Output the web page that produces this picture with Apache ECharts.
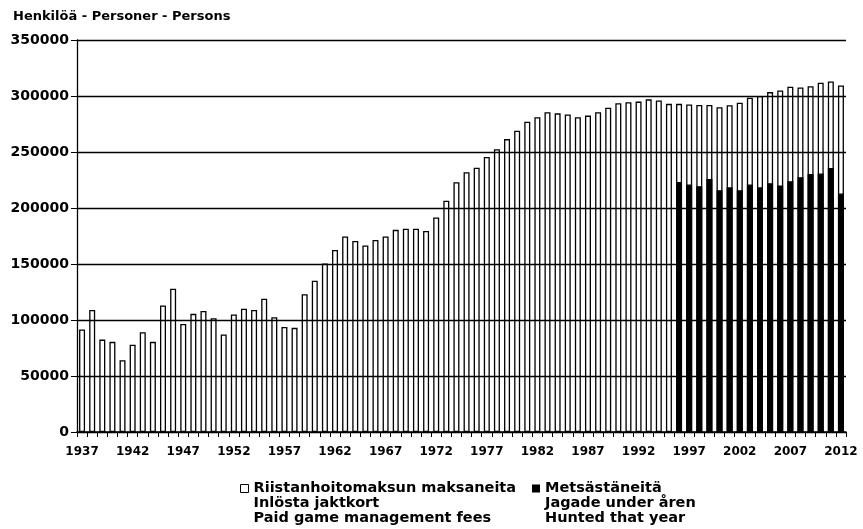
<!DOCTYPE html>
<html>
<head>
<meta charset="utf-8">
<script src="https://cdn.jsdelivr.net/npm/echarts@6/dist/echarts.min.js"></script>
<style>
    html, body { margin: 0; padding: 0; background: #fff; }
    #chart { width: 863px; height: 529px; }
</style>
</head>
<body>
<div id="chart"></div>
<script>
    // years 1937 - 2012
    let years = [];
    for (let y = 1937; y <= 2012; y++) {
        years.push(String(y));
    }

    // paid game management fees, 1937 - 2012
    let paidFees = [
        91600, 109000, 82500, 80500, 64000, 78000, 89000, 80500, 113000, 128000,
        96500, 105500, 108000, 101500, 87000, 105000, 110000, 109000, 119000, 102500,
        93800, 93000, 123000, 135000, 150500, 162500, 174500, 170500, 166500, 171500,
        174500, 180500, 181500, 181500, 179500, 191500, 206500, 223000, 232000, 236000,
        245500, 252500, 261500, 269000, 277000, 281000, 285500, 284500, 283500, 281000,
        282500, 285500, 289500, 293500, 294500, 295000, 297000, 296000, 293000, 293000,
        292500, 292000, 292000, 290000, 291800, 294000, 298500, 300000, 303500, 305000,
        308200, 307600, 308800, 311800, 313000, 309400
    ];

    // hunted that year, 1996 - 2012
    let huntedStart = 1996;
    let hunted = [
        223300, 220900, 219400, 226000, 215900, 218500, 215900, 220900, 218500,
        222100, 220100, 223900, 227500, 230400, 230700, 235800, 212900
    ];

    let yTicks = [0, 50000, 100000, 150000, 200000, 250000, 300000, 350000];

    let nameFees = 'Riistanhoitomaksun maksaneita\nInlösta jaktkort\nPaid game management fees';
    let nameHunted = 'Metsästäneitä\nJagade under åren\nHunted that year';

    let huntedData = years.map(function (y) {
        let i = parseInt(y) - huntedStart;
        return i >= 0 ? hunted[i] : null;
    });

    let font = 'DejaVu Sans';

    let legendText = {
        fontFamily: font,
        fontSize: 14.5,
        fontWeight: 'bold',
        lineHeight: 15,
        color: '#000'
    };

    let option = {
        animation: false,
        backgroundColor: '#fff',
        title: {
            text: 'Henkilöä - Personer - Persons',
            left: 8,
            top: 5,
            textStyle: {
                fontFamily: font,
                fontSize: 13,
                fontWeight: 'bold',
                color: '#000'
            }
        },
        grid: {
            left: 77,
            right: 17,
            top: 40,
            bottom: 97
        },
        // two legends, icon lined up with the first text line
        legend: [{
            left: 235,
            top: 446,
            itemWidth: 8,
            itemHeight: 8,
            icon: 'rect',
            selectedMode: false,
            formatter: function (name) {
                return '\n\n' + name;
            },
            textStyle: legendText,
            data: [{
                name: nameFees,
                itemStyle: { color: '#fff', borderColor: '#000', borderWidth: 1 }
            }]
        }, {
            left: 527,
            top: 446,
            itemWidth: 8,
            itemHeight: 8,
            icon: 'rect',
            selectedMode: false,
            formatter: function (name) {
                return '\n\n' + name;
            },
            textStyle: legendText,
            data: [{
                name: nameHunted,
                itemStyle: { color: '#000', borderWidth: 0 }
            }]
        }],
        xAxis: {
            type: 'category',
            data: years,
            boundaryGap: true,
            axisLine: { lineStyle: { color: '#000', width: 1.5 } },
            axisTick: {
                show: true,
                interval: 0,
                length: 5,
                lineStyle: { color: '#000', width: 1 }
            },
            axisLabel: {
                interval: 4,
                margin: 14,
                fontFamily: font,
                fontSize: 12,
                fontWeight: 'bold',
                color: '#000'
            },
            splitLine: { show: false }
        },
        yAxis: {
            type: 'value',
            min: yTicks[0],
            max: yTicks[yTicks.length - 1],
            interval: 50000,
            axisLine: { show: true, lineStyle: { color: '#000', width: 1.3 } },
            axisTick: { show: true, length: 6, lineStyle: { color: '#000', width: 1 } },
            axisLabel: {
                margin: 8,
                fontFamily: font,
                fontSize: 14,
                fontWeight: 'bold',
                color: '#000',
                formatter: function (v) {
                    return String(v);
                }
            },
            splitLine: { show: true, lineStyle: { color: '#000', width: 1.4 } }
        },
        series: [
            {
                name: nameFees,
                type: 'bar',
                data: paidFees,
                barWidth: 6,
                itemStyle: {
                    color: 'rgba(255,255,255,0)',
                    borderColor: '#000',
                    borderWidth: 1.3
                }
            },
            {
                name: nameHunted,
                type: 'bar',
                data: huntedData,
                barWidth: 6,
                barGap: '-100%',
                itemStyle: {
                    color: '#000',
                    borderColor: '#000',
                    borderWidth: 1.2
                }
            }
        ]
    };

    let myChart = echarts.init(document.getElementById('chart'));
    myChart.setOption(option);
</script>
</body>
</html>
